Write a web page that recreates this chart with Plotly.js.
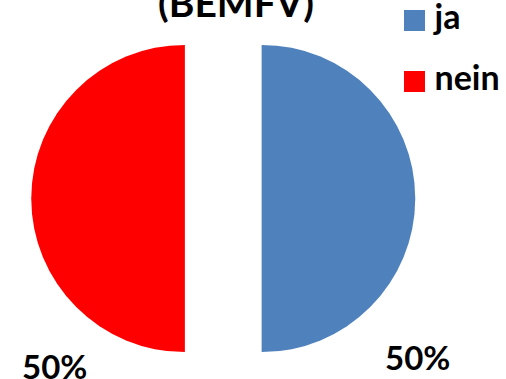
<!DOCTYPE html>
<html>
<head>
<meta charset="utf-8">
<script src="https://cdn.plot.ly/plotly-3.0.1.min.js"></script>
<style>
  html, body { margin: 0; padding: 0; overflow: hidden; background: #fff; }
  #frame { position: relative; width: 506px; height: 379px; overflow: hidden; }
  #chart { position: absolute; left: 0; top: -40px; width: 506px; height: 440px; }
</style>
</head>
<body>
<div id="frame"><div id="chart"></div></div>
<script>
// Survey answers: share of "ja" vs "nein"
const categories = ['ja', 'nein'];
const values = [50, 50];
const sliceColors = ['#4F81BD', '#FF0000'];
const titleText = '(BEMFV)';

// The figure is taller than the visible frame and shifted up, so the
// title's upper part is cropped by the frame.
const W = 506, H = 440, OFF = 40;
const FONT = 'Lato, "Open Sans", sans-serif';
const py = y => 1 - (y + OFF) / H;   // frame pixel row -> paper fraction

const total = values.reduce((a, b) => a + b, 0);
const percentText = values.map(v => Math.round(v / total * 100) + '%');

// Pie placement (frame pixels): centre and square side including the pull
const cx = 223.25, cy = 198.5, side = 384;
const domain = {
  x: [(cx - side / 2) / W, (cx + side / 2) / W],
  y: [py(cy + side / 2), py(cy - side / 2)]
};

// Legend entries: an empty first line gives each entry the taller row height
const legendNames = categories.map(c => '<br><span style="font-size:34px">' + c + '</span>');

const trace = {
  type: 'pie',
  labels: legendNames,
  values: values,
  marker: { colors: sliceColors, line: { width: 0 } },
  sort: false,
  direction: 'clockwise',
  rotation: 0,
  pull: values.map(() => 0.25),
  textinfo: 'none',
  hoverinfo: 'none',
  domain: domain
};

// Percent labels beneath each half
const labelPos = [
  { x: 417, y: 357 },  // ja
  { x: 54, y: 366 }    // nein
];
const annotations = values.map((v, i) => ({
  xref: 'paper', yref: 'paper',
  x: labelPos[i].x / W, y: py(labelPos[i].y),
  xanchor: 'center', yanchor: 'middle',
  text: percentText[i],
  showarrow: false,
  font: { family: FONT, size: 33, weight: 'bold', color: '#000' }
}));

const layout = {
  width: W, height: H,
  margin: { l: 0, r: 0, t: 0, b: 0 },
  paper_bgcolor: '#fff',
  title: {
    text: titleText,
    font: { family: FONT, size: 39, weight: 'bold', color: '#000' },
    xref: 'paper', yref: 'container',
    x: 236 / W, xanchor: 'center',
    y: py(17), yanchor: 'bottom'
  },
  showlegend: true,
  legend: {
    x: 394.5 / W, xanchor: 'left',
    y: py(-29.5), yanchor: 'top',
    valign: 'bottom',
    bgcolor: 'rgba(0,0,0,0)',
    font: { family: FONT, size: 22.3, weight: 'bold', color: '#000' }
  },
  annotations: annotations
};

Plotly.newPlot('chart', [trace], layout, { staticPlot: true, displayModeBar: false })
  .then(gd => {
    // larger square legend swatches
    gd.querySelectorAll('.legendpie').forEach(p => p.setAttribute('d', 'M10.5,10.5H-10.5V-10.5H10.5Z'));
  });
</script>
</body>
</html>
